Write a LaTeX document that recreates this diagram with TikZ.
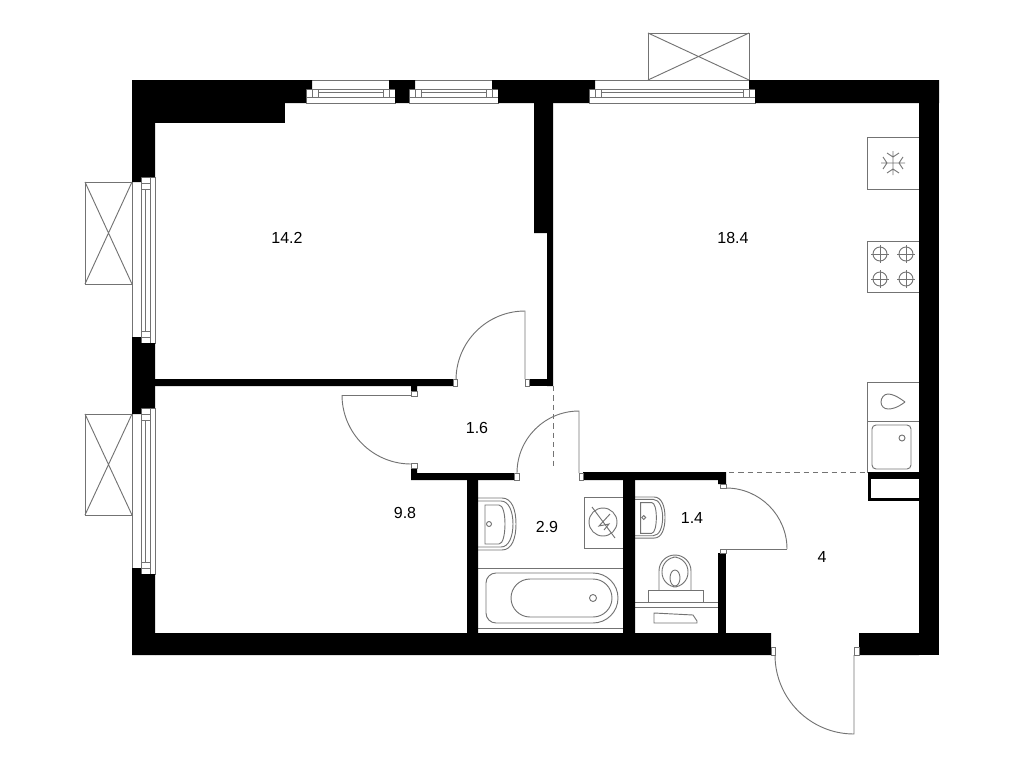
\documentclass[tikz,border=0pt]{standalone}
\usepackage{fontspec}
\setmainfont{Liberation Sans}
\definecolor{planline}{gray}{0.45}
\begin{document}
\begin{tikzpicture}[x=0.75pt,y=-0.75pt,font=\fontsize{12}{14}\selectfont,
	wall/.style={fill=black},
	thinline/.style={draw=planline,line width=0.7pt},
	jamb/.style={draw=planline,fill=white,line width=0.5pt},
	dashline/.style={draw=planline,line width=0.7pt,dash pattern=on 4pt off 3pt}]
	\useasboundingbox (0,0) rectangle (1024,768);
	% balconies
	\foreach \xa/\ya/\xb/\yb in {648/33/749/80,85/182/132/284,85/414/132/515}{
		\draw[thinline] (\xa,\ya) rectangle (\xb,\yb);
		\draw[thinline] (\xa,\ya)--(\xb,\yb) (\xa,\yb)--(\xb,\ya);
	}
	% top windows
	\foreach \xa/\xb in {306/395,409/498,589/755}{
		\draw[thinline] ({\xa+6},80)--({\xb-6},80);
		\draw[thinline] (\xa,89) rectangle (\xb,103);
		\draw[thinline] (\xa,97)--(\xb,97);
		\draw[thinline] ({\xa+6},89)--({\xa+6},97) ({\xb-6},89)--({\xb-6},97);
		\draw[thinline] ({\xa+12},89) rectangle ({\xb-12},97);
		\draw[thinline] ({\xa+12},92)--({\xb-12},92);
	}
	% left windows
	\foreach \ya/\yb in {177/343,408/574}{
		\draw[thinline] (132,{\ya+5})--(132,{\yb-6});
		\draw[thinline] (141,\ya) rectangle (155,\yb);
		\draw[thinline] (150,\ya)--(150,\yb);
		\draw[thinline] (141,{\ya+6})--(150,{\ya+6}) (141,{\yb-6})--(150,{\yb-6});
		\draw[thinline] (141,{\ya+12}) rectangle (150,{\yb-12});
		\draw[thinline] (145,{\ya+12})--(145,{\yb-12});
	}
	% kitchen
	\draw[thinline] (867,137) rectangle (919,189);
	\foreach \a in {0,90,180,270}{
		\begin{scope}[rotate around={\a:(893,163)}]
			\draw[thinline] (893,163)--(893,151) (887,153)--(893,157)--(899,153);
		\end{scope}
	}
	\draw[thinline] (867,241) rectangle (919,292);
	\foreach \xa in {880,906}{
		\foreach \ya in {254,279}{
			\draw[thinline] (\xa,\ya) circle[radius=7];
			\draw[thinline] ({\xa-9},\ya)--({\xa+9},\ya) (\xa,{\ya-9})--(\xa,{\ya+9});
		}
	}
	\draw[thinline] (867,382) rectangle (919,421);
	\draw[thinline] (867,421) rectangle (919,472);
	\draw[thinline] (905,402) .. controls (897,396) and (892,394) .. (888,394) .. controls (884,394) and (881,398) .. (881,402) .. controls (881,406) and (884,409) .. (888,409) .. controls (892,409) and (897,408) .. (905,402);
	\draw[thinline,rounded corners=3] (872,425) rectangle (911,469);
	\draw[thinline] (902,438) circle[radius=3];
	% bathroom
	\foreach \bx/\by/\bs in {478/498/1,635/497/0.79}{
		\begin{scope}[shift={(\bx,\by)},scale=\bs]
			\draw[thinline] (0,0)--(24,0) .. controls (34,0) and (38,12) .. (38,26) .. controls (38,40) and (34,52) .. (24,52)--(0,52);
			\draw[thinline] (0,3)--(23,3) .. controls (31,3) and (35,14) .. (35,26) .. controls (35,38) and (31,49) .. (23,49)--(0,49);
			\draw[thinline] (7,7)--(21,7) .. controls (25,7) and (27,16) .. (27,26) .. controls (27,36) and (25,46) .. (21,46)--(7,46)--cycle;
			\draw[thinline] (11,26) circle[radius=2.5];
		\end{scope}
	}
	\draw[thinline] (584,497) rectangle (623,548);
	\draw[thinline] (603,522) circle[radius=14];
	\draw[thinline] (592,507)--(615,538);
	\draw[thinline] (610,514)--(599,526)--(609,524)--(604,530);
	\draw[thinline] (478,568)--(623,568) (478,628)--(623,628);
	\draw[thinline] (496,573)--(593,573) arc[start angle=-90,end angle=90,radius=25]--(496,623) arc[start angle=90,end angle=180,radius=10]--(486,583) arc[start angle=180,end angle=270,radius=10]--cycle;
	\draw[thinline] (530,579)--(593,579) arc[start angle=-90,end angle=90,radius=19]--(530,617) arc[start angle=90,end angle=270,radius=19]--cycle;
	\draw[thinline] (593,598) circle[radius=3.5];
	% toilet
	\draw[thinline] (659,590)--(659,571) arc[start angle=180,end angle=360,radius=16]--(691,590);
	\draw[thinline,rounded corners=11] (662,587)--(662,557)--(688,557)--(688,587)--cycle;
	\draw[thinline] (675,578) ellipse[x radius=5,y radius=8];
	\draw[thinline] (648,590) rectangle (703,602);
	\draw[thinline] (635,602)--(718,602) (635,607)--(718,607);
	\draw[thinline] (654,613)--(693,615)--(697,621)--(697,623)--(654,623)--cycle;
	% walls
	\fill[wall] (132,80) rectangle (306,103) (306,80) rectangle (312,89);
	\fill[wall] (395,80) rectangle (409,103) (389,80) rectangle (415,89);
	\fill[wall] (498,80) rectangle (589,103) (492,80) rectangle (595,89);
	\fill[wall] (755,80) rectangle (939,103) (749,80) rectangle (755,89);
	\fill[wall] (132,103) rectangle (155,177) (132,177) rectangle (141,182);
	\fill[wall] (132,343) rectangle (155,408) (132,337) rectangle (141,343) (132,408) rectangle (141,414);
	\fill[wall] (132,574) rectangle (155,655) (132,568) rectangle (141,574);
	\fill[wall] (919,103) rectangle (939,655);
	\fill[wall] (155,633) rectangle (771,655) (859,633) rectangle (919,655);
	\fill[wall] (155,103) rectangle (285,123);
	\fill[wall] (534,103) rectangle (553,233) (547,233) rectangle (553,386);
	\fill[wall] (529,379) rectangle (547,386);
	\fill[wall] (155,379) rectangle (453,386) (411,386) rectangle (417,391);
	\fill[wall] (411,468) rectangle (417,473) (411,473) rectangle (514,480);
	\fill[wall] (583,472) rectangle (726,480) (718,480) rectangle (726,484);
	\fill[wall] (467,480) rectangle (478,633) (623,480) rectangle (635,633);
	\fill[wall] (718,553) rectangle (726,633);
	\fill[wall] (868,472) rectangle (919,501);
	\fill[white] (871,479) rectangle (919,498);
	% doors
	\foreach \xa/\ya/\xb/\yb in {453/379/457/386,525/379/529/386,411/391/417/396,411/463/417/468,514/473/519/480,579/473/583/480,720/484/726/488,720/549/726/553,771/647/775/655,854/647/859/655}{
		\draw[jamb] (\xa,\ya) rectangle (\xb,\yb);
	}
	\draw[thinline] (456,380) arc[start angle=180,end angle=270,radius=69]--(525,379);
	\draw[thinline] (342,395) arc[start angle=180,end angle=90,radius=69];
	\draw[thinline] (342,395)--(411,395);
	\draw[thinline] (517,473) arc[start angle=180,end angle=270,radius=62]--(579,473);
	\draw[thinline] (787,549) arc[start angle=0,end angle=-90,radius=61];
	\draw[thinline] (726,549)--(787,549);
	\draw[thinline] (775,655) arc[start angle=180,end angle=90,radius=79]--(854,655);
	\draw[dashline] (553,386)--(553,468);
	\draw[dashline] (729,472)--(868,472);
	% areas
	\node (areaone) at (287,238) {14.2};
	\node (areatwo) at (733,238) {18.4};
	\node (areathree) at (477,428) {1.6};
	\node (areafour) at (405,513) {9.8};
	\node (areafive) at (547,527) {2.9};
	\node (areasix) at (692,518) {1.4};
	\node (areaseven) at (822,557) {4};
\end{tikzpicture}
\end{document}
